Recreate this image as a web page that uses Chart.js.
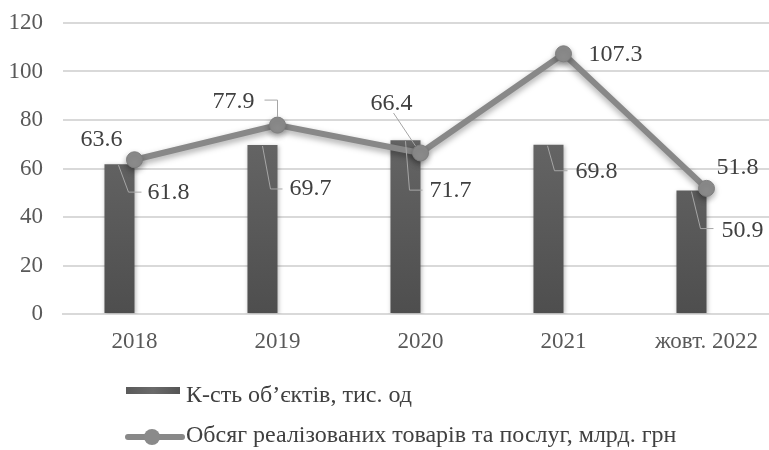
<!DOCTYPE html>
<html>
<head>
<meta charset="utf-8">
<script src="https://cdn.jsdelivr.net/npm/chart.js@4/dist/chart.umd.min.js"></script>
<style>
  html, body { margin: 0; padding: 0; background: #fff; overflow: hidden; width: 769px; height: 450px; }
  canvas { display: block; }
</style>
</head>
<body>
<canvas id="c" width="800" height="450"></canvas>
<script>
// ---- data ----
const categories = ['2018', '2019', '2020', '2021', 'жовт. 2022'];
const objectsCount = [61.8, 69.7, 71.7, 69.8, 50.9];
const salesVolume = [63.6, 77.9, 66.4, 107.3, 51.8];
const emptySlot = [null, null, null, null, null];
const seriesNames = ['К-сть об’єктів, тис. од', 'Обсяг реалізованих товарів та послуг, млрд. грн'];
const yMin = 0, yMax = 120, yStep = 20;

// ---- styles ----
const FONT = "'Liberation Serif', 'Times New Roman', serif";
const TEXT = '#404040';
const LEADER = '#a6a6a6';

// label placement relative to elements (styles, not data)
const barLabelLayout = [
  { s: [-1, 1], e: [9, 28], t: [22, 28], tx: [28, 29] },
  { s: [0, 1], e: [8, 44], t: [20, 44], tx: [27, 44] },
  { s: [0, 1], e: [4, 50], t: [17, 50], tx: [24, 51] },
  { s: [-1, 1], e: [6, 26], t: [19, 26], tx: [27, 27] },
  { s: [0, 1], e: [9, 38], t: [22, 38], tx: [30, 40] }
];
const lineLabelLayout = [
  { c: [-33, -20] },
  { c: [-44, -23], leader: [[-13, -25], [0, -25], [0, -8]] },
  { c: [-29, -49], leader: [[-27, -40], [-5, -7]] },
  { c: [52, 1] },
  { c: [31, -21] }
];

function barGradient(ctx) {
  const chart = ctx.chart;
  const area = chart.chartArea;
  if (!area) return '#595959';
  const g = chart.ctx.createLinearGradient(0, area.bottom, 0, area.top + 60);
  g.addColorStop(0, '#4e4e4e');
  g.addColorStop(1, '#6c6c6c');
  return g;
}

const shadowPlugin = {
  id: 'shadows',
  beforeDatasetDraw(chart, args) {
    const ctx = chart.ctx;
    ctx.save();
    if (args.index === 2) {
      ctx.shadowColor = 'rgba(0,0,0,0.35)';
      ctx.shadowBlur = 6;
      ctx.shadowOffsetY = 3;
    } else if (args.index === 0) {
      ctx.shadowColor = 'rgba(0,0,0,0.25)';
      ctx.shadowBlur = 4;
      ctx.shadowOffsetX = 1;
      ctx.shadowOffsetY = 1;
    }
  },
  afterDatasetDraw(chart) {
    chart.ctx.restore();
  }
};

const labelPlugin = {
  id: 'valueLabels',
  afterDatasetsDraw(chart) {
    const ctx = chart.ctx;
    ctx.save();
    ctx.font = '24px ' + FONT;
    ctx.fillStyle = TEXT;
    ctx.textBaseline = 'middle';
    const bars = chart.getDatasetMeta(0).data;
    bars.forEach((el, i) => {
      const L = barLabelLayout[i];
      ctx.strokeStyle = LEADER;
      ctx.lineWidth = 1;
      ctx.beginPath();
      ctx.moveTo(el.x + L.s[0], el.y + L.s[1]);
      ctx.lineTo(el.x + L.e[0], el.y + L.e[1]);
      ctx.lineTo(el.x + L.t[0], el.y + L.t[1]);
      ctx.stroke();
      ctx.textAlign = 'left';
      ctx.fillText(objectsCount[i].toFixed(1), el.x + L.tx[0], el.y + L.tx[1]);
    });
    const pts = chart.getDatasetMeta(2).data;
    pts.forEach((el, i) => {
      const L = lineLabelLayout[i];
      if (L.leader) {
        ctx.strokeStyle = LEADER;
        ctx.lineWidth = 1;
        ctx.beginPath();
        L.leader.forEach((p, k) => {
          if (k === 0) ctx.moveTo(el.x + p[0], el.y + p[1]);
          else ctx.lineTo(el.x + p[0], el.y + p[1]);
        });
        ctx.stroke();
      }
      ctx.textAlign = 'center';
      ctx.fillText(salesVolume[i].toFixed(1), el.x + L.c[0], el.y + L.c[1]);
    });
    ctx.restore();
  }
};

const legendPlugin = {
  id: 'customLegend',
  afterDraw(chart) {
    const ctx = chart.ctx;
    ctx.save();
    ctx.font = '24px ' + FONT;
    ctx.textBaseline = 'middle';
    ctx.textAlign = 'left';
    const g = ctx.createLinearGradient(126, 0, 180, 0);
    g.addColorStop(0, '#5a5a5a');
    g.addColorStop(0.5, '#6a6a6a');
    g.addColorStop(1, '#555555');
    ctx.fillStyle = g;
    ctx.fillRect(126, 387, 54, 7);
    ctx.fillStyle = TEXT;
    ctx.fillText(seriesNames[0], 186, 396);
    ctx.strokeStyle = '#888888';
    ctx.lineWidth = 6;
    ctx.lineCap = 'round';
    ctx.beginPath();
    ctx.moveTo(128, 437);
    ctx.lineTo(182, 437);
    ctx.stroke();
    ctx.beginPath();
    ctx.fillStyle = '#8a8a8a';
    ctx.arc(152, 437, 8, 0, Math.PI * 2);
    ctx.fill();
    ctx.fillStyle = TEXT;
    ctx.fillText(seriesNames[1], 186, 436);
    ctx.restore();
  }
};

new Chart(document.getElementById('c'), {
  type: 'bar',
  data: {
    labels: categories,
    datasets: [
      {
        type: 'bar',
        label: seriesNames[0],
        data: objectsCount,
        backgroundColor: barGradient,
        categoryPercentage: 0.42,
        barPercentage: 1,
        order: 2
      },
      {
        type: 'bar',
        label: '',
        data: emptySlot,
        backgroundColor: 'rgba(0,0,0,0)',
        categoryPercentage: 0.42,
        barPercentage: 1,
        order: 3
      },
      {
        type: 'line',
        label: seriesNames[1],
        data: salesVolume,
        borderColor: '#888888',
        borderWidth: 6,
        pointRadius: 8,
        pointHoverRadius: 8,
        pointBackgroundColor: '#8c8c8c',
        pointBorderColor: '#7e7e7e',
        pointBorderWidth: 1,
        tension: 0,
        order: 1
      }
    ]
  },
  options: {
    responsive: false,
    animation: false,
    devicePixelRatio: 1,
    layout: { padding: { top: 23, bottom: 96, left: 0, right: 22 } },
    plugins: {
      legend: { display: false },
      tooltip: { enabled: false }
    },
    scales: {
      x: {
        offset: true,
        grid: { display: false, drawTicks: false },
        border: { display: true, color: '#d9d9d9', width: 2 },
        ticks: { color: '#595959', font: { family: FONT, size: 23 }, padding: 14, maxRotation: 0, autoSkip: false },
        afterFit(scale) { scale.height = 40; scale.paddingLeft = 0; scale.paddingRight = 0; }
      },
      y: {
        min: yMin,
        max: yMax,
        grid: { color: '#d9d9d9', lineWidth: 2, drawTicks: false },
        border: { display: false },
        ticks: { stepSize: yStep, color: '#595959', font: { family: FONT, size: 23 }, padding: 20 },
        afterFit(scale) { scale.width = 63; scale.paddingTop = 0; scale.paddingBottom = 0; }
      }
    }
  },
  plugins: [shadowPlugin, labelPlugin, legendPlugin]
});
</script>
</body>
</html>
